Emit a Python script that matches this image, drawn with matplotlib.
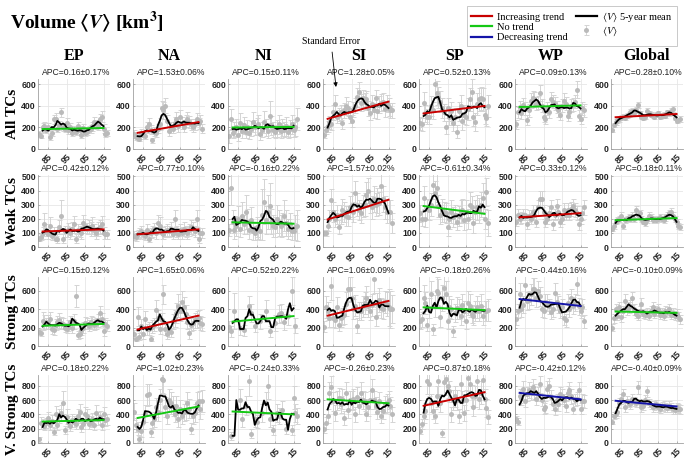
import numpy as np
import pandas as pd
import matplotlib
matplotlib.use("Agg")
import matplotlib.pyplot as plt
from matplotlib.lines import Line2D

plt.rcParams['mathtext.fontset'] = 'stix'

nan = np.nan
years = list(range(1980, 2018))
regions = ["EP", "NA", "NI", "SI", "SP", "WP", "Global"]
row_labels = ["All TCs", "Weak TCs", "Strong TCs", "V. Strong TCs"]
row_ylim = [650, 510, 750, 950]
row_yticks = [[0, 200, 400, 600], [0, 100, 200, 300, 400, 500], [0, 200, 400, 600], [0, 200, 400, 600, 800]]
xtick_years = [1985, 1995, 2005, 2015]
xtick_labels = ["85", "95", "05", "15"]

# ---------------- All TCs ----------------
EP_all = [140,125,200,215,175,205,110,150,275,280,190,220,340,200,185,240,175,200,150,175,160,210,175,130,195,150,160,180,185,210,250,230,215,280,300,190,140,150]
NA_all = [140,110,100,95,150,130,120,200,230,180,80,160,150,190,230,380,360,400,260,170,200,190,240,280,210,300,240,200,260,280,250,230,200,230,280,240,260,190]
NI_all = [120,280,150,180,200,130,240,170,220,160,200,150,190,250,200,210,230,140,180,250,200,170,310,220,180,160,190,230,170,200,180,210,160,190,230,180,200,280]
SI_all = [130,175,210,250,230,340,420,300,320,340,240,360,400,380,300,260,370,400,480,530,430,470,440,460,380,330,420,360,470,350,410,430,440,370,420,390,360,360]
SP_all = [240,230,430,330,300,300,400,360,600,520,480,440,380,340,200,380,300,350,240,300,160,350,400,260,320,300,370,460,530,300,250,420,460,470,460,320,290,400]
WP_all = [230,340,390,330,410,380,270,360,450,470,460,420,430,520,400,300,280,380,340,460,440,420,390,360,320,400,450,420,310,340,400,410,440,550,310,280,380,360]
GL_all = [180,220,250,270,280,290,300,290,310,320,340,350,330,360,410,330,300,290,300,350,330,320,310,300,320,330,300,310,320,310,340,330,350,370,290,260,270,280]

EP_all_err = [30,25,40,35,30,40,25,30,45,50,35,40,40,35,30,50,35,40,30,35,30,40,35,30,35,30,30,35,35,40,45,40,35,45,50,40,30,30]
NA_all_err = [35,30,30,25,40,35,30,50,60,45,25,40,40,45,55,70,80,70,60,45,50,45,55,60,50,60,55,45,55,60,55,50,45,50,55,50,55,45]
NI_all_err = [60,90,50,70,80,60,90,70,80,60,70,60,70,90,70,80,90,60,70,100,80,70,140,90,70,60,80,90,70,80,70,90,60,80,90,70,80,100]
SI_all_err = [30,40,50,60,50,70,80,60,60,70,50,70,80,70,60,60,70,70,90,90,80,80,80,80,70,60,80,70,80,70,80,80,80,70,80,80,70,70]
SP_all_err = [60,60,100,80,70,70,90,80,130,110,100,100,90,80,60,90,80,90,70,80,60,90,100,80,90,80,100,110,120,90,80,100,110,110,110,90,80,100]
WP_all_err = [40,50,60,50,60,60,50,60,70,70,70,60,60,70,60,50,50,60,50,70,60,60,60,60,50,60,70,60,50,50,60,60,60,80,50,50,60,60]
GL_all_err = [20,20,25,25,25,25,25,25,25,25,30,30,25,30,30,25,25,25,25,30,25,25,25,25,25,25,25,25,25,25,25,25,30,30,25,20,20,25]

# ---------------- Weak TCs ----------------
EP_weak = [60,70,100,160,120,90,150,80,100,60,60,140,220,60,110,110,120,100,130,160,60,120,110,100,170,150,130,140,130,150,120,100,130,140,160,100,90,90]
NA_weak = [80,70,90,100,110,90,80,120,60,100,110,130,100,170,150,100,90,110,120,110,130,90,200,110,90,120,100,130,110,100,120,140,130,110,200,60,100,100]
NI_weak = [120,420,180,120,150,200,130,220,160,250,180,120,190,110,100,140,120,110,230,320,190,250,290,180,150,140,200,170,150,160,220,170,130,160,110,110,140,150]
SI_weak = [100,100,150,200,330,250,200,230,140,230,260,250,220,210,280,300,250,380,300,260,240,290,300,370,400,320,280,340,300,330,310,430,340,280,250,250,250,170]
SP_weak = [240,200,350,200,270,260,300,440,380,420,290,230,260,250,240,140,200,250,210,230,180,220,250,260,190,250,200,300,280,170,250,280,260,300,350,200,390,170]
WP_weak = [180,230,200,210,230,230,160,220,200,250,230,180,280,340,340,250,180,200,240,280,160,230,290,250,180,200,260,230,260,230,270,290,260,240,160,200,240,280]
GL_weak = [130,150,180,190,200,220,150,190,200,210,200,220,200,260,230,240,200,180,170,190,220,210,190,200,190,200,210,200,190,210,220,240,250,220,200,180,150,140]

EP_weak_err = [20,20,40,80,40,30,60,30,40,20,30,50,110,30,40,40,50,40,50,60,30,40,40,40,60,50,40,50,50,60,40,40,50,50,60,40,30,30]
NA_weak_err = [30,25,30,35,40,30,30,40,25,35,40,40,40,60,60,40,35,40,40,40,50,35,60,40,35,45,40,50,40,40,45,50,45,40,60,30,35,35]
NI_weak_err = [40,120,80,60,70,90,60,100,70,120,90,60,90,60,50,70,60,60,180,160,100,120,160,90,80,70,100,90,80,80,110,90,70,80,60,60,90,110]
SI_weak_err = [20,20,40,60,80,70,60,70,50,70,80,70,70,60,80,90,70,90,80,70,70,80,80,90,90,80,80,90,80,90,80,90,90,80,80,80,80,70]
SP_weak_err = [60,50,80,60,70,70,80,100,90,100,80,70,80,70,70,60,70,80,70,70,60,70,80,80,70,80,70,90,80,70,80,90,90,90,100,70,100,90]
WP_weak_err = [30,40,40,40,40,40,30,40,40,50,40,40,50,60,60,50,40,40,50,50,40,40,50,50,40,40,50,40,50,40,50,50,50,50,40,40,50,50]
GL_weak_err = [15,20,20,20,20,25,20,20,20,25,20,25,25,30,25,25,20,20,20,20,25,25,20,20,20,20,25,20,20,25,25,25,25,25,20,20,20,20]

# ---------------- Strong TCs ----------------
EP_strong = [150,140,270,260,240,260,290,180,170,230,260,280,250,240,200,190,220,260,200,270,540,120,130,170,200,250,240,220,260,250,230,240,280,360,290,160,240,220]
NA_strong = [130,80,320,100,220,130,290,180,190,80,210,230,390,300,190,280,560,180,130,160,150,270,300,360,440,380,480,420,350,260,140,230,250,280,290,300,250,240]
NI_strong = [210,160,nan,380,nan,nan,200,nan,170,nan,nan,440,360,nan,220,nan,nan,270,nan,nan,380,nan,160,nan,nan,250,nan,350,360,nan,260,nan,330,nan,600,nan,220,nan]
SI_strong = [210,420,380,300,650,300,280,420,230,300,320,340,460,620,620,520,400,440,220,380,380,430,470,520,430,380,450,730,320,460,500,410,400,480,460,420,400,400]
SP_strong = [270,290,520,470,230,410,560,180,430,600,580,310,520,630,560,270,420,400,160,360,410,400,330,450,380,270,470,440,350,330,380,420,380,440,330,380,380,390]
WP_strong = [290,380,560,400,450,660,490,500,560,620,620,520,600,540,400,380,480,470,430,370,400,580,480,450,380,420,300,280,470,400,520,440,470,670,430,380,420,270]
GL_strong = [200,300,400,330,420,310,380,490,400,420,440,520,400,350,330,380,460,350,340,360,330,380,420,350,380,400,340,360,330,380,370,400,340,360,330,350,320,290]

EP_strong_err = [30,30,100,80,60,80,80,50,50,60,70,80,70,60,50,50,60,70,60,80,120,40,40,50,60,70,60,60,70,60,60,60,70,80,70,50,60,60]
NA_strong_err = [40,30,100,40,70,50,90,60,70,30,70,70,110,90,60,80,100,60,50,60,50,80,90,110,130,110,120,110,100,80,60,70,80,80,90,90,80,80]
NI_strong_err = [60,60,0,200,0,0,80,0,60,0,0,100,100,0,70,0,0,80,0,0,120,0,60,0,0,90,0,100,100,0,90,0,100,0,150,0,80,0]
SI_strong_err = [60,120,100,90,150,90,80,110,70,90,90,100,130,140,130,120,110,110,80,100,100,110,120,130,110,100,120,150,100,120,130,110,110,120,130,200,200,150]
SP_strong_err = [80,80,140,120,70,110,150,60,120,150,150,100,140,160,150,90,120,110,60,100,120,110,100,120,110,90,130,120,100,100,110,120,110,120,100,110,110,120]
WP_strong_err = [60,80,120,80,90,140,100,100,110,120,120,100,110,100,80,80,90,90,80,80,80,110,90,90,80,90,70,70,90,80,100,90,90,120,90,80,90,70]
GL_strong_err = [40,50,60,50,60,50,60,70,60,60,60,70,60,50,50,50,60,50,50,50,50,50,60,50,50,60,50,50,50,50,50,60,50,50,50,50,50,50]

# ---------------- Very strong TCs ----------------
EP_vs = [50,280,270,240,280,350,250,310,160,400,250,380,420,560,180,370,300,240,320,300,270,380,430,220,260,400,380,260,300,330,250,420,340,360,250,400,320,330]
NA_vs = [440,250,200,60,170,300,410,670,680,150,280,330,500,430,600,900,880,500,380,600,560,520,410,510,330,470,380,430,450,560,480,200,380,420,560,580,470,590]
NI_vs = [nan,100,nan,nan,nan,nan,600,330,nan,520,nan,860,130,nan,330,300,nan,nan,420,nan,560,800,330,nan,180,nan,420,380,nan,460,nan,190,nan,nan,180,630,420,380]
SI_vs = [200,280,380,700,780,580,420,590,630,540,620,350,700,460,600,590,620,400,640,520,700,600,580,410,500,600,740,600,520,440,580,380,450,540,560,600,520,400]
SP_vs = [170,260,380,450,860,830,560,450,380,650,860,560,140,850,900,800,720,400,600,650,600,380,820,580,420,600,910,830,660,500,650,860,620,700,880,620,490,360]
WP_vs = [330,300,660,630,760,590,680,740,700,780,720,620,680,820,600,480,500,760,800,640,550,470,600,540,680,650,600,510,700,740,650,480,600,620,740,480,590,580]
GL_vs = [300,380,400,440,560,620,680,500,580,560,540,620,580,560,780,560,500,520,600,720,560,530,500,520,540,500,480,510,520,500,490,520,500,470,460,500,480,470]

EP_vs_err = [30,80,70,60,70,90,70,80,50,120,70,100,110,160,60,100,80,70,90,80,80,100,110,70,70,100,100,70,80,90,70,110,90,90,70,100,80,80]
NA_vs_err = [120,100,90,40,80,100,120,150,150,60,90,100,130,120,150,200,200,140,110,150,150,140,120,140,100,130,110,120,130,150,130,80,110,120,150,150,130,150]
NI_vs_err = [0,60,0,0,0,0,150,100,0,130,0,200,60,0,100,90,0,0,120,0,150,180,100,0,70,0,120,110,0,130,0,70,0,0,70,160,120,110]
SI_vs_err = [60,80,100,150,160,130,110,130,140,120,140,100,150,110,130,130,140,100,140,120,150,130,130,100,120,130,160,130,120,110,130,100,110,120,130,130,120,100]
SP_vs_err = [50,70,100,110,180,170,130,110,100,150,180,130,60,180,190,170,150,100,140,150,140,100,170,140,110,140,190,170,150,120,150,180,140,160,180,140,120,100]
WP_vs_err = [50,50,100,100,110,90,100,110,100,110,100,90,100,120,90,80,80,110,110,100,90,80,90,90,100,100,90,80,100,110,100,80,90,90,110,80,90,90]
GL_vs_err = [40,50,50,60,70,70,80,60,70,60,60,70,60,60,90,60,60,60,70,80,60,60,60,60,60,60,60,60,60,60,60,60,60,60,50,60,60,60]

# trend values at start (1982) and end (2015), and trend class
trend_start = [[185,150,200,280,330,390,295],
               [110,90,175,195,290,210,190],
               [220,180,265,330,420,510,375],
               [300,350,440,610,520,700,590]]
trend_end = [[195,250,205,440,400,405,325],
             [125,125,165,335,235,240,205],
             [240,330,325,490,390,435,360],
             [320,510,400,555,710,610,510]]
trend_kind = [["no","inc","no","inc","inc","no","inc"],
              ["inc","inc","no","inc","no","inc","no"],
              ["no","inc","no","inc","no","dec","no"],
              ["no","no","no","no","inc","dec","dec"]]
apc_text = [["0.16±0.17","1.53±0.06","0.15±0.11","1.28±0.05","0.52±0.13","0.09±0.13","0.28±0.10"],
            ["0.42±0.12","0.77±0.10","-0.16±0.22","1.57±0.02","-0.61±0.34","0.33±0.12","0.18±0.11"],
            ["0.15±0.12","1.65±0.06","0.52±0.22","1.06±0.09","-0.18±0.26","-0.44±0.16","-0.10±0.09"],
            ["0.18±0.22","1.02±0.23","-0.24±0.33","-0.26±0.23","0.87±0.18","-0.42±0.12","-0.40±0.09"]]

values = [[EP_all, NA_all, NI_all, SI_all, SP_all, WP_all, GL_all],
          [EP_weak, NA_weak, NI_weak, SI_weak, SP_weak, WP_weak, GL_weak],
          [EP_strong, NA_strong, NI_strong, SI_strong, SP_strong, WP_strong, GL_strong],
          [EP_vs, NA_vs, NI_vs, SI_vs, SP_vs, WP_vs, GL_vs]]
errors = [[EP_all_err, NA_all_err, NI_all_err, SI_all_err, SP_all_err, WP_all_err, GL_all_err],
          [EP_weak_err, NA_weak_err, NI_weak_err, SI_weak_err, SP_weak_err, WP_weak_err, GL_weak_err],
          [EP_strong_err, NA_strong_err, NI_strong_err, SI_strong_err, SP_strong_err, WP_strong_err, GL_strong_err],
          [EP_vs_err, NA_vs_err, NI_vs_err, SI_vs_err, SP_vs_err, WP_vs_err, GL_vs_err]]

colors = {"inc": "#c80000", "no": "#14c814", "dec": "#1414a8"}
pt_color = "#bababa"
err_color = "#d4d4d4"

W, H = 685, 462
fig = plt.figure(figsize=(W / 100, H / 100), dpi=100)
lefts_px = [38, 133, 228, 323, 419, 515, 611]
width_px = 72
rows_px = [(79, 149), (175, 247), (277, 346), (375, 443)]

sans = "Liberation Sans"
serif = "Liberation Serif"
eb_handle = None
axes = {}
for r in range(4):
    top, bot = rows_px[r]
    for c in range(7):
        ax = fig.add_axes([lefts_px[c] / W, 1 - bot / H, width_px / W, (bot - top) / H])
        axes[(r, c)] = ax
        v = np.array(values[r][c], dtype=float)
        e = np.array(errors[r][c], dtype=float)
        yrs = np.array(years)
        eb = ax.errorbar(yrs, v, yerr=e, fmt='o', color=pt_color, ms=3.6, mec='none',
                         ecolor=err_color, elinewidth=0.7, capsize=1.8, capthick=0.7, zorder=2)
        if eb_handle is None:
            eb_handle = eb
        s = pd.Series(v)
        sparse = np.isnan(v).any()
        rm = s.rolling(5, center=True, min_periods=1 if sparse else 5).mean().to_numpy()
        m = (yrs >= 1982) & (yrs <= 2015)
        ax.plot(yrs[m], rm[m], color='k', lw=1.3, zorder=4)
        ax.plot([1982, 2015], [trend_start[r][c], trend_end[r][c]],
                color=colors[trend_kind[r][c]], lw=1.4, zorder=5)
        ax.set_xlim(1979.5, 2018.5)
        ax.set_ylim(0, row_ylim[r])
        ax.set_yticks(row_yticks[r])
        ax.set_xticks(xtick_years)
        ax.set_xticklabels(xtick_labels, rotation=45, ha='right', va='top', rotation_mode='anchor')
        for lab in ax.get_xticklabels() + ax.get_yticklabels():
            lab.set_fontfamily(sans)
            lab.set_fontweight('bold')
            lab.set_fontsize(6.3)
            lab.set_color('#222222')
        ax.tick_params(axis='both', length=1.5, width=0.5, color='#999999', pad=1.5, direction='in')
        ax.tick_params(axis='x', pad=2)
        ax.grid(True, color='#e6e6e6', lw=0.6, zorder=0)
        ax.set_axisbelow(True)
        for sp in ['top', 'right']:
            ax.spines[sp].set_visible(False)
        for sp in ['left', 'bottom']:
            ax.spines[sp].set_color('#a0a0a0')
            ax.spines[sp].set_linewidth(0.6)
        ax.text(1.0, 1.025, "APC=%s%%" % apc_text[r][c], transform=ax.transAxes,
                ha='right', va='bottom', fontsize=6.2, family=sans, color='#222222')

# column headers
for c, name in enumerate(regions):
    fig.text((lefts_px[c] + width_px / 2) / W, 1 - 56 / H, name, ha='center', va='center',
             fontsize=11.5, fontweight='bold', family=serif)

# row labels
for r, name in enumerate(row_labels):
    top, bot = rows_px[r]
    fig.text(13 / W, 1 - (top + bot) / 2 / H, name, rotation=90, ha='center', va='center',
             fontsize=11, fontweight='bold', family=serif)

# title
fig.text(10 / W, 1 - 22 / H, r'Volume $\mathbf{\langle}\mathbfit{V}\mathbf{\rangle}$ [km$^{\mathbf{3}}$]',
         fontsize=14, fontweight='bold', family=serif, va='center', ha='left')

# standard error annotation
axes[(0, 3)].annotate('Standard Error', xy=(336 / W, 1 - 87 / H), xycoords='figure fraction',
                      xytext=(331 / W, 1 - 42 / H), textcoords='figure fraction',
                      ha='center', va='center', fontsize=7, family=serif, annotation_clip=False,
                      arrowprops=dict(arrowstyle='-|>', color='k', lw=0.6, mutation_scale=6,
                                      shrinkA=2, shrinkB=0))

# legend
handles = [Line2D([], [], color=colors["inc"], lw=1.6),
           Line2D([], [], color=colors["no"], lw=1.6),
           Line2D([], [], color=colors["dec"], lw=1.6),
           Line2D([], [], color='k', lw=1.6),
           eb_handle]
labels = ["Increasing trend", "No trend", "Decreasing trend",
          r"$\langle V\rangle$ 5-year mean", r"$\langle V\rangle$"]
leg = fig.legend(handles, labels, ncol=2, loc='upper right', bbox_to_anchor=(682 / W, 1 - 1 / H),
                 prop={'family': serif, 'size': 7.5}, frameon=True, fancybox=False,
                 edgecolor='#b0b0b0', handlelength=2.0, labelspacing=0.1, columnspacing=0.8,
                 borderpad=0.4, handletextpad=0.5)
leg.get_frame().set_linewidth(0.6)

fig.savefig("out.png", dpi=100)
